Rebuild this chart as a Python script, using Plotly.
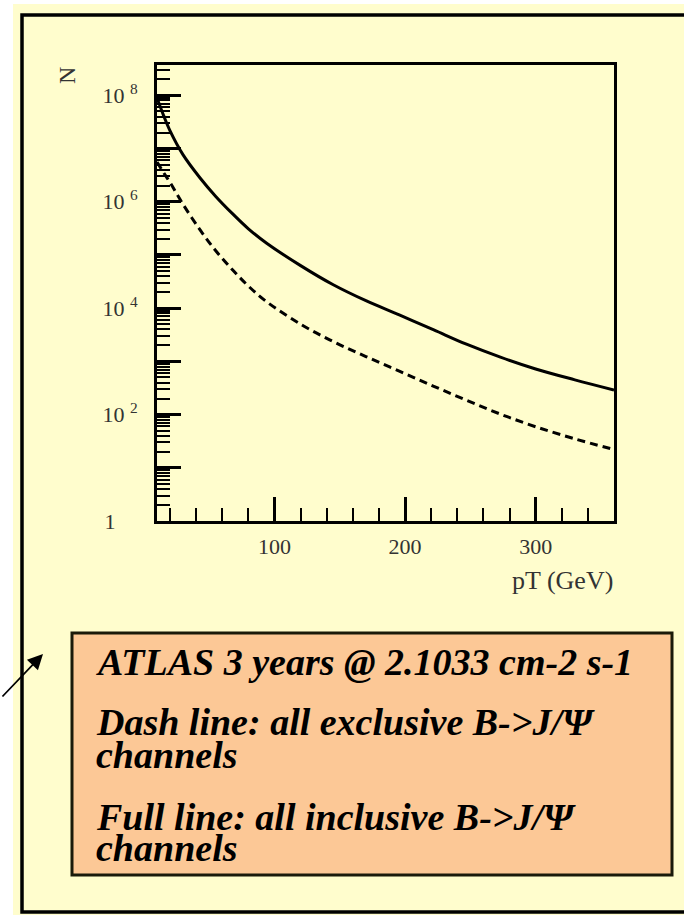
import plotly.graph_objects as go

# ---- data ----
pt = [10, 15, 20, 30, 43, 55, 68, 80, 94, 120, 145, 170, 196, 222, 247, 273, 300, 330, 360]
n_inclusive = [8.9e7, 4.2e7, 2.15e7, 7.6e6, 2.8e6, 1.26e6, 5.9e5, 3.1e5, 1.66e5, 6.3e4, 2.75e4,
               1.38e4, 7.4e3, 3.9e3, 2.1e3, 1.2e3, 720, 450, 290]
n_exclusive = [5.6e6, 3.55e6, 2.3e6, 8.9e5, 2.95e5, 1.2e5, 5.2e4, 2.6e4, 1.32e4, 5.0e3, 2.35e3,
               1.23e3, 650, 340, 186, 102, 59, 35, 22]

x_tickvals = [100, 200, 300]
x_ticktext = ["100", "200", "300"]
y_tickvals = [1, 1e2, 1e4, 1e6, 1e8]
y_ticktext = ["1\u2007\u2007", "10 <sup>2</sup>", "10 <sup>4</sup>", "10 <sup>6</sup>",
              "10 <sup>8</sup>"]
y_odd_decades = [1e1, 1e3, 1e5, 1e7]
y_minor = [k * 10 ** e for e in range(0, 9) for k in range(2, 10)]

box_lines = [
    "ATLAS 3 years @ 2.1033 cm-2 s-1",
    "Dash line: all exclusive B->J/\u03a8",
    "channels",
    "Full line: all inclusive B->J/\u03a8",
    "channels",
]
box_baselines = [670, 730, 763, 825, 856]

W, H = 684, 915
YEL = "#FFFDCD"
ORANGE = "#FCC896"
SERIF = "Liberation Serif"
YRANGE = [0, 8.57]


def px(x):
    return x / W


def py(y):
    return 1 - y / H


fig = go.Figure()
fig.add_trace(go.Scatter(x=pt, y=n_inclusive, mode="lines", line_shape="spline",
                         line=dict(color="black", width=3), showlegend=False,
                         hoverinfo="skip"))
fig.add_trace(go.Scatter(x=pt, y=n_exclusive, mode="lines", line_shape="spline",
                         line=dict(color="black", width=3, dash="8px,5px"), showlegend=False,
                         hoverinfo="skip"))
# carrier trace so the overlaid axis (odd-decade long ticks) is drawn
fig.add_trace(go.Scatter(x=pt[:1], y=n_inclusive[:1], yaxis="y2", mode="markers",
                         marker=dict(opacity=0), showlegend=False, hoverinfo="skip"))

ydom = [py(521), py(65)]
fig.update_layout(
    width=W, height=H, autosize=False, margin=dict(l=0, r=0, t=0, b=0, pad=0),
    paper_bgcolor="white", plot_bgcolor="rgba(0,0,0,0)",
    xaxis=dict(domain=[px(157), px(614)], range=[10, 360], showgrid=False, zeroline=False,
               automargin=False,
               showline=True, mirror=True, linecolor="black", linewidth=3,
               tickmode="array", tickvals=x_tickvals, ticktext=x_ticktext,
               ticks="inside", ticklen=24, tickwidth=2.5, tickcolor="black",
               ticklabelstandoff=4,
               tickfont=dict(family=SERIF, size=22, color="#333"),
               minor=dict(dtick=20, tick0=0, ticks="inside", ticklen=13, tickwidth=2,
                          tickcolor="black", showgrid=False)),
    yaxis=dict(domain=ydom, type="log", range=YRANGE, showgrid=False, automargin=False,
               zeroline=False, showline=True, mirror=True, linecolor="black", linewidth=3,
               tickmode="array", tickvals=y_tickvals, ticktext=y_ticktext,
               ticks="inside", ticklen=24, tickwidth=2.5, tickcolor="black",
               ticklabelstandoff=12,
               tickfont=dict(family=SERIF, size=22, color="#333"),
               minor=dict(tickmode="array", tickvals=y_minor, ticks="inside", ticklen=13,
                          tickwidth=2, tickcolor="black", showgrid=False)),
    yaxis2=dict(overlaying="y", anchor="x", side="left", type="log", range=YRANGE,
                automargin=False,
                showgrid=False, zeroline=False, showline=False, showticklabels=False,
                tickmode="array", tickvals=y_odd_decades, ticks="inside", ticklen=24,
                tickwidth=2.5, tickcolor="black"),
)

shapes = [
    dict(type="rect", xref="paper", yref="paper", x0=px(13), x1=1.0, y0=0, y1=py(4),
         fillcolor=YEL, line=dict(width=0), layer="below"),
    dict(type="rect", xref="paper", yref="paper", x0=px(22), x1=px(720), y0=py(912), y1=py(15),
         fillcolor="rgba(0,0,0,0)", line=dict(color="black", width=3.5), layer="below"),
    dict(type="rect", xref="paper", yref="paper", x0=px(72), x1=px(672), y0=py(875), y1=py(633),
         fillcolor=ORANGE, line=dict(color="#1a1a0a", width=3), layer="below"),
]
fig.update_layout(shapes=shapes)

ann = [
    dict(text="N", x=px(67), y=py(76), xref="paper", yref="paper", showarrow=False,
         xanchor="center", yanchor="middle",
         textangle=-90, font=dict(family=SERIF, size=24, color="#333")),
    dict(text="pT (GeV)", x=px(615), y=py(580), xref="paper", yref="paper", showarrow=False,
         xanchor="right", yanchor="middle", font=dict(family=SERIF, size=26, color="#333")),
    dict(text="", x=px(43), y=py(654), xref="paper", yref="paper", showarrow=True,
         ax=-42, ay=44, arrowhead=2, arrowsize=1.7, arrowwidth=1.8, arrowcolor="black"),
]
FS = 38
for txt, base in zip(box_lines, box_baselines):
    ann.append(dict(text="<b><i>" + txt + "</i></b>", x=px(94), y=py(base - 8),
                    xref="paper", yref="paper", showarrow=False, xanchor="left",
                    yanchor="middle", font=dict(family=SERIF, size=FS, color="black")))
fig.update_layout(annotations=ann)

fig.write_html("out.html",
               config={"displayModeBar": False},
               post_script="document.body.style.margin='0';"
                           "document.body.style.overflow='hidden';")
